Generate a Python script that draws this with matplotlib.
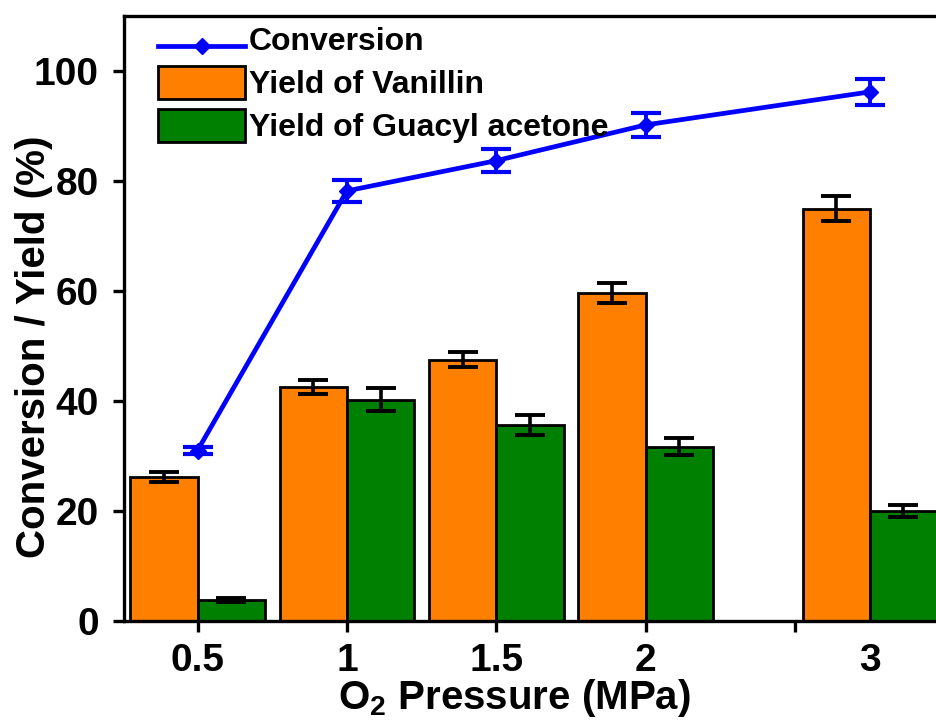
import matplotlib
matplotlib.use("Agg")
import matplotlib.pyplot as plt
import matplotlib.patches as mpatches
from matplotlib.legend_handler import HandlerPatch, HandlerLine2D
import numpy as np

# O2 pressure groups (MPa); the 3 MPa group sits at 2.75 on the axis
pressure_labels = ["0.5", "1", "1.5", "2", "3"]
group_pos = [0.5, 1.0, 1.5, 2.0, 2.75]

vanillin = [26.2, 42.5, 47.5, 59.6, 75.0]
vanillin_err = [0.85, 1.3, 1.4, 1.8, 2.3]
guacyl = [3.8, 40.2, 35.6, 31.7, 20.0]
guacyl_err = [0.3, 2.1, 1.8, 1.6, 1.05]
conversion = [31.0, 78.2, 83.7, 90.2, 96.2]
conversion_err = [0.7, 2.0, 2.15, 2.2, 2.4]

plt.rcParams["font.family"] = ["Liberation Sans", "DejaVu Sans"]
plt.rcParams["font.weight"] = "bold"
plt.rcParams["mathtext.fontset"] = "custom"
plt.rcParams["mathtext.rm"] = "Liberation Sans:bold"
plt.rcParams["mathtext.it"] = "Liberation Sans:bold"
plt.rcParams["mathtext.bf"] = "Liberation Sans:bold"
plt.rcParams["mathtext.default"] = "rm"

ORANGE = "#FF8000"
GREEN = "#008000"
BLUE = "#0000FF"

fig = plt.figure(figsize=(9.37, 7.24), dpi=100)
ax = fig.add_axes([124 / 937, 103 / 724, 1 - 124 / 937, 605 / 724])

x = np.array(group_pos)
w = 0.225
err_kw = dict(ecolor="black", elinewidth=2.6, capsize=11, capthick=2.8)

ax.bar(x - w / 2, vanillin, width=w, color=ORANGE, edgecolor="black",
       linewidth=2, yerr=vanillin_err, error_kw=err_kw,
       label="Yield of Vanillin", zorder=2)
ax.bar(x + w / 2, guacyl, width=w, color=GREEN, edgecolor="black",
       linewidth=2, yerr=guacyl_err, error_kw=err_kw,
       label="Yield of Guacyl acetone", zorder=2)

ax.errorbar(x, conversion, yerr=conversion_err, fmt="none", ecolor=BLUE,
            elinewidth=2.8, capsize=11, capthick=3, zorder=4)
ax.plot(x, conversion, "-D", color=BLUE, lw=3.4, ms=8.5,
        label="Conversion", zorder=5)

ax.set_xlim(0.254, 2.975)
ax.set_ylim(0, 110)

ax.set_xticks([0.5, 1.0, 1.5, 2.0, 2.5])
ax.set_xticklabels(pressure_labels[:4] + [""])
ax.set_xticks([group_pos[4]], minor=True)
ax.set_xticklabels([pressure_labels[4]], minor=True)
ax.set_yticks([0, 20, 40, 60, 80, 100])

ax.tick_params(axis="both", which="major", direction="out", length=8,
               width=2.4, labelsize=28, pad=8)
ax.tick_params(axis="y", which="major", pad=10)
ax.tick_params(axis="x", which="minor", length=0, pad=8 + 8, labelsize=28)
for lab in ax.get_xticklabels(which="both") + ax.get_yticklabels():
    lab.set_fontweight("bold")

for side in ["left", "bottom", "top"]:
    ax.spines[side].set_linewidth(2.4)
ax.spines["right"].set_visible(False)

ax.set_xlabel("O$_2$ Pressure (MPa)", fontsize=29, fontweight="bold")
ax.xaxis.set_label_coords(0.48, -0.0926)
ax.set_ylabel("Conversion / Yield (%)", fontsize=29, fontweight="bold")
ax.yaxis.set_label_coords(-0.0873, 0.453)


def legend_box(legend, orig_handle, xdescent, ydescent, width, height,
               fontsize):
    return mpatches.Rectangle((-xdescent + 0.09 * width, -ydescent - 0.195 * height),
                              0.84 * width, 1.39 * height)


class LoweredLine(HandlerLine2D):
    """Line handle drawn a little below the middle of its box."""

    def create_artists(self, legend, orig_handle, xdescent, ydescent,
                       width, height, fontsize, trans):
        artists = super().create_artists(legend, orig_handle, xdescent,
                                         ydescent, width, height, fontsize,
                                         trans)
        for art in artists:
            art.set_ydata(np.asarray(art.get_ydata()) - 7)
        return artists


h, l = ax.get_legend_handles_labels()
order = [l.index("Conversion"), l.index("Yield of Vanillin"),
         l.index("Yield of Guacyl acetone")]
leg = ax.legend([h[i] for i in order], [l[i] for i in order],
                loc="upper left", bbox_to_anchor=(0.0343, 1.0),
                frameon=False, handlelength=2.73,
                handleheight=1.2, handletextpad=0.1, labelspacing=0.29,
                borderpad=0.2, borderaxespad=0,
                handler_map={mpatches.Rectangle: HandlerPatch(patch_func=legend_box),
                             h[order[0]]: LoweredLine()},
                prop={"weight": "bold", "size": 23})

fig.savefig("out.png", dpi=100)
